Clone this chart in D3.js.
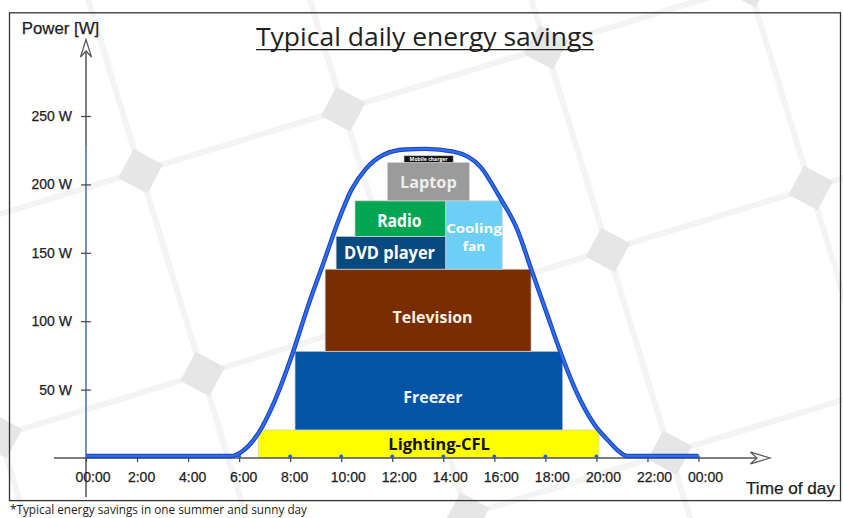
<!DOCTYPE html>
<html><head><meta charset="utf-8">
<script src="https://cdn.jsdelivr.net/npm/d3@7"></script>
<style>html,body{margin:0;padding:0;background:#fff;} svg{display:block;}</style>
</head><body>
<svg id="chart" width="843" height="518"></svg>
<script>
// ---------- data ----------
const curveHours = [0, 5.7, 6.05, 6.75, 7.4, 8.05, 8.7, 9.35, 9.9, 10.4, 10.95, 11.7, 12.5, 13.3, 14.4, 15.45, 16.2, 16.9, 17.5, 18.05, 18.6, 19.25, 19.9, 20.55, 20.9, 21.2, 24];
const curveWatts = [1.5, 1.5, 4, 18, 42, 74, 111, 145, 174, 196, 211, 222, 225.5, 226, 224, 213, 191, 167, 135, 106, 77, 47, 25, 11, 4.5, 1.5, 1.5];

const appliances = ["Lighting-CFL", "Freezer", "Television", "DVD player", "Radio", "Cooling fan", "Laptop", "Mobile charger"];
const startHours = [6.75, 8.19, 9.37, 9.8, 10.54, 14.1, 11.81, 12.46];
const endHours   = [20.1, 18.68, 17.44, 14.1, 14.1, 16.31, 15.02, 14.39];
const baseWatts  = [0, 20.5, 78, 138, 162, 138, 188, 216];
const topWatts   = [20.5, 78, 138, 162, 188, 188, 216, 221];

const yTickValues = [50, 100, 150, 200, 250];
const xTickHours = [0, 2, 4, 6, 8, 10, 12, 14, 16, 18, 20, 22, 24];
const xTickLabels = ["00:00", "2:00", "4:00", "6:00", "8:00", "10:00", "12:00", "14:00", "16:00", "18:00", "20:00", "22:00", "00:00"];
const dotHours = [6, 8, 10, 12, 14, 16, 18, 20];

const titleText = "Typical daily energy savings";
const yAxisTitle = "Power [W]";
const xAxisTitle = "Time of day";
const footnoteText = "*Typical energy savings in one summer and sunny day";

// ---------- styles ----------
const blockStyle = {
  "Lighting-CFL":  {fill: "#ffff00", text: "#111111", size: 16, widths: [101.7], dx: 10.5, dy: [6]},
  "Freezer":       {fill: "#0254a6", text: "#f2f5fb", size: 16, widths: [59.4], dx: 4, dy: [12.4]},
  "Television":    {fill: "#7a2d00", text: "#f7efe8", size: 16, widths: [80], dx: 4.5, dy: [12.8]},
  "DVD player":    {fill: "#064a80", text: "#ffffff", size: 17, widths: [91], dx: -1.4, dy: [6]},
  "Radio":         {fill: "#00a651", text: "#ffffff", size: 17, widths: [44.4], dx: -1, dy: [8.8]},
  "Cooling fan":   {fill: "#6dcff6", text: "#ffffff", size: 13, widths: [55.7, 22.7], dx: 0, dy: [-2.5, 15.5], lines: ["Cooling", "fan"]},
  "Laptop":        {fill: "#9b9b9b", text: "#eeeeee", size: 16, widths: [56.7], dx: 0, dy: [6.4]},
  "Mobile charger":{fill: "#111111", text: "#ffffff", size: 5, widths: [38], dx: 0, dy: [1.8]}
};
const AX_FONT = "'Liberation Sans', Arial, sans-serif";
const HUM_FONT = "'Open Sans', 'Noto Sans', sans-serif";

// ---------- setup ----------
const svg = d3.select("#chart");
const x = d3.scaleLinear().domain([0, 24]).range([86, 698.5]);
const y = d3.scaleLinear().domain([0, 250]).range([458, 116]);

// ---------- background solar-panel pattern ----------
const bg = svg.append("g").attr("transform", "translate(608,250) rotate(-17)");
const step = 212;
const idx = d3.range(-5, 6);
bg.selectAll("line.v").data(idx).join("line")
  .attr("x1", d => d * step).attr("x2", d => d * step)
  .attr("y1", -1200).attr("y2", 1200)
  .attr("stroke", "#f4f4f4").attr("stroke-width", 6);
bg.selectAll("line.h").data(idx).join("line")
  .attr("y1", d => d * step).attr("y2", d => d * step)
  .attr("x1", -1200).attr("x2", 1200)
  .attr("stroke", "#f4f4f4").attr("stroke-width", 6);
const pts = [];
idx.forEach(i => idx.forEach(j => pts.push([i * step, j * step])));
bg.selectAll("rect.dia").data(pts).join("rect")
  .attr("x", -16.5).attr("y", -16.5).attr("width", 33).attr("height", 33)
  .attr("transform", d => `translate(${d[0]},${d[1]}) rotate(45)`)
  .attr("fill", "#e6e6e6");

// ---------- frame ----------
svg.append("rect").attr("x", 9.5).attr("y", 12.8).attr("width", 831).attr("height", 487.8)
  .attr("fill", "none").attr("stroke", "#333").attr("stroke-width", 1.3);

// ---------- title ----------
svg.append("text").attr("x", 425).attr("y", 45.7).attr("text-anchor", "middle")
  .attr("font-family", HUM_FONT).attr("font-size", 26).attr("fill", "#231f20")
  .attr("textLength", 338).attr("lengthAdjust", "spacingAndGlyphs").text(titleText);
svg.append("line").attr("x1", 256).attr("x2", 594).attr("y1", 49.6).attr("y2", 49.6)
  .attr("stroke", "#231f20").attr("stroke-width", 1.3);

// ---------- blocks ----------
const blocks = appliances.map((name, i) => ({name, x0: startHours[i], x1: endHours[i], y0: baseWatts[i], y1: topWatts[i]}));
svg.append("g").selectAll("rect").data(blocks).join("rect")
  .attr("x", d => x(d.x0)).attr("y", d => y(d.y1))
  .attr("width", d => x(d.x1) - x(d.x0)).attr("height", d => y(d.y0) - y(d.y1))
  .attr("fill", d => blockStyle[d.name].fill)
  .attr("stroke", "rgba(210,210,210,0.9)").attr("stroke-width", 0.8);

// ---------- axes ----------
svg.append("line").attr("x1", x(0)).attr("x2", x(0)).attr("y1", 41).attr("y2", 497)
  .attr("stroke", "#555").attr("stroke-width", 1.5);
svg.append("path").attr("d", `M${x(0)-5.5},57 L${x(0)},39.5 L${x(0)+5.5},57 L${x(0)},51 Z`)
  .attr("fill", "#fff").attr("stroke", "#555").attr("stroke-width", 1.2);
svg.append("line").attr("x1", x(0)).attr("x2", x(0)).attr("y1", y(0)).attr("y2", y(228))
  .attr("stroke", "#6d9ce0").attr("stroke-width", 1.3);

const ya = svg.append("g").attr("transform", `translate(${x(0)},0)`)
  .call(d3.axisLeft(y).tickValues(yTickValues).tickSize(5).tickPadding(9).tickFormat(d => d + " W"));
ya.select(".domain").remove();
ya.attr("font-family", AX_FONT).attr("font-size", 14);
ya.selectAll(".tick line").attr("x1", 5).attr("stroke", "#444").attr("stroke-width", 1.2);
ya.selectAll(".tick text").attr("fill", "#1e1e1e").attr("stroke", "#1e1e1e").attr("stroke-width", 0.25);

svg.append("line").attr("x1", 54).attr("x2", 757).attr("y1", y(0)).attr("y2", y(0))
  .attr("stroke", "#555").attr("stroke-width", 1.5);
svg.append("path").attr("d", `M750.5,${y(0)-5.8} L770,${y(0)} L750.5,${y(0)+5.8} L757,${y(0)} Z`)
  .attr("fill", "#fff").attr("stroke", "#555").attr("stroke-width", 1.2);

const xa = svg.append("g").attr("transform", `translate(0,${y(0)})`)
  .call(d3.axisBottom(x).tickValues(xTickHours).tickSize(4).tickFormat((d, i) => xTickLabels[i]));
xa.select(".domain").remove();
xa.attr("font-family", AX_FONT).attr("font-size", 14);
xa.selectAll(".tick line").attr("y1", -2.5).attr("y2", 4).attr("stroke", "#444").attr("stroke-width", 1.2);
xa.selectAll(".tick text").attr("y", 23.7).attr("dy", 0)
  .attr("dx", (d, i) => xTickLabels[i].length > 4 ? 6.5 : 4)
  .attr("fill", "#1e1e1e").attr("stroke", "#1e1e1e").attr("stroke-width", 0.25);

// ---------- curve ----------
const curveData = curveHours.map((h, i) => [h, curveWatts[i]]);
const line = d3.line().x(d => x(d[0])).y(d => y(d[1])).curve(d3.curveMonotoneX);
svg.append("path").datum(curveData).attr("d", line)
  .attr("fill", "none").attr("stroke", "#1a44c0").attr("stroke-width", 4.4).attr("stroke-linejoin", "round");
svg.append("path").datum(curveData).attr("d", line)
  .attr("fill", "none").attr("stroke", "#2f6ef0").attr("stroke-width", 2.2).attr("stroke-linejoin", "round");

svg.append("g").selectAll("circle").data(dotHours).join("circle")
  .attr("cx", d => x(d)).attr("cy", y(0) - 1.5).attr("r", 1.9).attr("fill", "#2a5fd0");

// ---------- block labels ----------
const lab = svg.append("g").attr("font-family", HUM_FONT).attr("font-weight", 700).attr("text-anchor", "middle");
blocks.forEach(b => {
  const s = blockStyle[b.name];
  const cx = (x(b.x0) + x(b.x1)) / 2 + s.dx;
  const cy = (y(b.y0) + y(b.y1)) / 2;
  const lines = s.lines || [b.name];
  const t = lab.append("text").attr("font-size", s.size).attr("fill", s.text);
  lines.forEach((str, k) => {
    t.append("tspan").attr("x", cx).attr("y", cy + s.dy[k])
      .attr("textLength", s.widths[k]).attr("lengthAdjust", "spacingAndGlyphs")
      .text(str);
  });
});

// ---------- axis titles & footnote ----------
svg.append("text").attr("x", 21.7).attr("y", 34).attr("font-family", AX_FONT).attr("font-size", 16.5)
  .attr("fill", "#1e1e1e").attr("stroke", "#1e1e1e").attr("stroke-width", 0.25)
  .attr("textLength", 77.6).attr("lengthAdjust", "spacingAndGlyphs").text(yAxisTitle);
svg.append("text").attr("x", 746).attr("y", 493.5).attr("font-family", AX_FONT).attr("font-size", 17)
  .attr("fill", "#1e1e1e").attr("stroke", "#1e1e1e").attr("stroke-width", 0.25)
  .attr("textLength", 89).attr("lengthAdjust", "spacingAndGlyphs").text(xAxisTitle);
svg.append("text").attr("x", 10).attr("y", 513.5).attr("font-family", HUM_FONT).attr("font-size", 12.5)
  .attr("fill", "#231f20").attr("textLength", 297).attr("lengthAdjust", "spacingAndGlyphs").text(footnoteText);
</script>
</body></html>
